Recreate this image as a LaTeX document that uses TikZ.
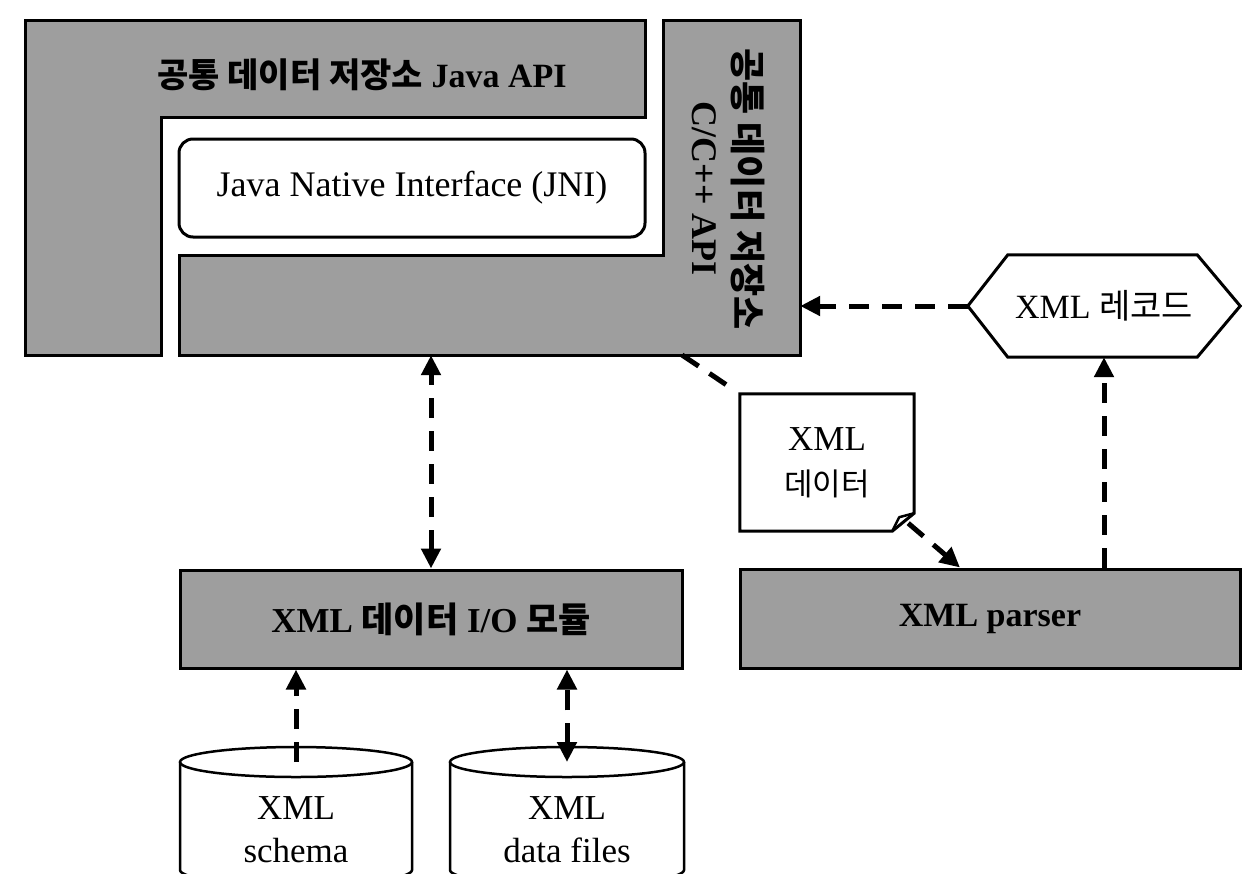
\documentclass[tikz,border=0pt]{standalone}
\usepackage{fontspec}
\setmainfont{Liberation Serif}
\newfontfamily\korfont{Noto Sans CJK KR}
\newcommand{\kor}[1]{{\korfont #1}}
\usetikzlibrary{arrows.meta,calc}
\begin{document}
\begin{tikzpicture}[x=1pt,y=-1pt,
  panel/.style={draw=black, line width=3pt, fill=black!38, line join=miter},
  outline/.style={draw=black, line width=3pt},
  conn/.style={line width=5pt, dash pattern=on 20pt off 13pt},
  tip/.style={-{Triangle[length=20pt,width=19pt]}},
  bitip/.style={{Triangle[length=20pt,width=19pt]}-{Triangle[length=20pt,width=19pt]}},
  lbl/.style={font=\fontsize{35pt}{43pt}\selectfont, align=center, inner sep=0pt},
  blbl/.style={font=\fontsize{34pt}{42pt}\selectfont\bfseries, align=center, inner sep=0pt},
  anchorbox/.style={inner sep=0pt, draw=none},
]
\useasboundingbox (0,0) rectangle (1252,873);
\clip (0,0) rectangle (1252,873);

% Java API L-shape
\draw[panel] (25,20) -- (645,20) -- (645,117) -- (161,117) -- (161,355) -- (25,355) -- cycle;
% C/C++ API L-shape
\draw[panel] (663,20) -- (800,20) -- (800,355) -- (179,355) -- (179,255) -- (663,255) -- cycle;

% invisible anchor boxes for the C/C++ shape
\node[anchorbox, minimum width=137pt, minimum height=335pt] (ccol) at (731.5,187.5) {};
\node[anchorbox, minimum width=621pt, minimum height=100pt] (cbar) at (489.5,305) {};
\coordinate (cout) at (682,355);

% labels of the L-shapes
\node[blbl] (javaapi) at (362,75) {\kor{공통 데이터 저장소} Java API};
\node[blbl, font=\fontsize{36pt}{42pt}\selectfont\bfseries, rotate=-90] (capi) at (729,189)
  {\kor{공통 데이터 저장소}\\C/C++ API};

% JNI
\node[outline, fill=white, rounded corners=14pt, minimum width=466pt, minimum height=98pt,
      lbl, font=\fontsize{36pt}{43pt}\selectfont] (jni) at (412,188) {Java Native Interface (JNI)};

% I/O module
\node[panel, blbl, font=\fontsize{35pt}{42pt}\selectfont\bfseries, minimum width=502pt, minimum height=98pt] (io) at (431,619)
  {XML \kor{데이터} I/O \kor{모듈}};

% XML parser
\node[panel, blbl, minimum width=500pt, minimum height=99pt] (parser) at (990,618.5) {XML parser};

% XML record hexagon
\node[lbl, font=\fontsize{34pt}{42pt}\selectfont, minimum width=272pt, minimum height=102pt] (hex) at (1104,306)
  {XML \kor{레코드}};
\draw[outline, line join=miter] (hex.west) -- ([xshift=40pt]hex.north west) -- ([xshift=-43pt]hex.north east)
  -- (hex.east) -- ([xshift=-43pt]hex.south east) -- ([xshift=40pt]hex.south west) -- cycle;

% XML data document
\node[lbl, minimum width=174pt, minimum height=137pt] (doc) at (827,462.5)
  {XML\\[2pt]\kor{\fontsize{31pt}{40pt}\selectfont 데이터}};
\draw[outline, line join=miter] (doc.north west) -- (doc.north east) -- ([yshift=18pt]doc.south east)
  -- ([xshift=-22pt]doc.south east) -- (doc.south west) -- cycle;
\draw[line width=2.5pt, line join=round] ([xshift=-22pt]doc.south east) -- ([xshift=-15pt,yshift=14pt]doc.south east)
  -- ([yshift=18pt]doc.south east);

% cylinders
\coordinate (schematop) at (296,762);
\coordinate (datatop) at (567,762);
\draw[line width=2.5pt, fill=white] ($(schematop)+(-116,0)$) -- ++(0,108)
  arc[start angle=180, end angle=0, x radius=116, y radius=15] -- ($(schematop)+(116,0)$);
\draw[line width=2.5pt] (schematop) ellipse[x radius=116, y radius=15];
\draw[line width=2.5pt, fill=white] ($(datatop)+(-117,0)$) -- ++(0,108)
  arc[start angle=180, end angle=0, x radius=117, y radius=15] -- ($(datatop)+(117,0)$);
\draw[line width=2.5pt] (datatop) ellipse[x radius=117, y radius=15];
\node[lbl] (schema) at (296,830) {XML\\schema};
\node[lbl] (datafiles) at (567,830) {XML\\data files};

% connectors
\draw[conn, bitip] (io.north) -- (io.north |- cbar.south);
\draw[conn, tip] (schematop) -- (schematop |- io.south);
\draw[conn, bitip] (datatop) -- (datatop |- io.south);
\draw[conn, shorten >=10pt] (cout) -- (doc.north west);
\draw[conn, tip] ([xshift=-6pt,yshift=8pt]doc.south east) -- ([xshift=-30pt]parser.north);
\draw[conn, tip] (parser.north -| hex.south) -- (hex.south);
\draw[conn, tip] (hex.west) -- (hex.west -| ccol.east);
\end{tikzpicture}
\end{document}
